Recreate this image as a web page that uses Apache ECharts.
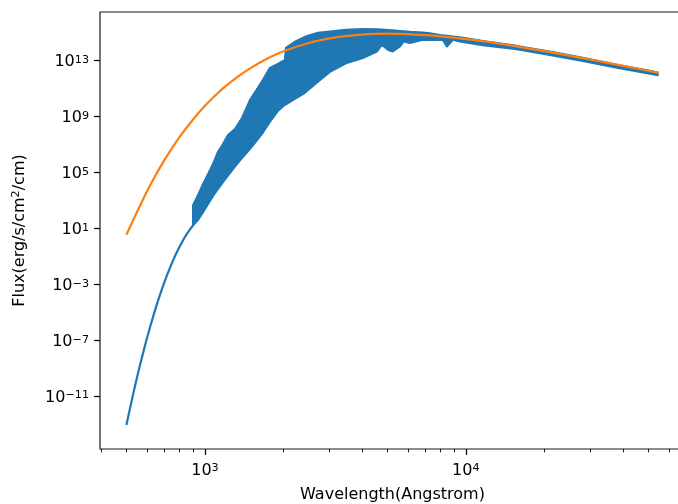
<!DOCTYPE html>
<html>
<head>
<meta charset="utf-8">
<script src="https://cdn.jsdelivr.net/npm/echarts@6/dist/echarts.min.js"></script>
<style>html,body{margin:0;padding:0;background:#fff;}#c{width:678px;height:504px;}</style>
</head>
<body>
<div id="c"></div>
<script>
// ---- data ----
// Blackbody-like curve (orange)
const orangeWl = [500, 550, 600, 650, 700, 750, 800, 900, 1000, 1100, 1200, 1350, 1500, 1750, 2000, 2500, 3000, 3500, 4000, 4500, 5000, 6000, 7000, 8000, 10000, 12000, 15000, 20000, 25000, 30000, 40000, 50000, 55000];
const orangeFlux = [3.5, 1.6e2, 4.6e3, 7.4e4, 7.9e5, 6.0e6, 3.5e7, 6.1e8, 5.8e9, 3.4e10, 1.46e11, 8.1e11, 3.0e12, 1.5e13, 4.6e13, 1.8e14, 3.8e14, 5.8e14, 7.2e14, 8.0e14, 8.3e14, 7.7e14, 6.5e14, 5.3e14, 3.4e14, 2.2e14, 1.16e14, 4.7e13, 2.2e13, 1.19e13, 4.2e12, 1.85e12, 1.3e12];

// Smooth UV part of the spectrum (blue line)
const blueWl = [500, 510, 520, 532, 545, 560, 575, 595, 615, 637, 660, 686, 713, 740, 770, 800, 830, 850, 870, 886, 902];
const blueFlux = [8.7e-14, 4.9e-13, 2.6e-12, 1.76e-11, 1.24e-10, 1.03e-9, 7.4e-9, 8.6e-8, 8.0e-7, 7.5e-6, 6.3e-5, 5.4e-4, 3.9e-3, 2.2e-2, 0.12, 0.51, 1.79, 3.7, 7.0, 11.2, 17];

// Noisy part of the spectrum drawn as a band: lower / upper envelope
const bandWl = [900, 940, 983, 1027, 1073, 1121, 1172, 1225, 1303, 1386, 1487, 1568, 1668, 1774, 1904, 2025, 2043, 2212, 2416, 2710, 3013, 3470, 4031, 4560, 4767, 5024, 5252, 5586, 5786, 6101, 6842, 7278, 8166, 8458, 8917, 9485, 11617, 15686, 20977, 28070, 37890, 50700, 54400];
const bandLo = [17, 39, 1.45e2, 5.4e2, 2.0e3, 6.5e3, 2.0e4, 6.0e4, 2.6e5, 1.07e6, 4.7e6, 1.58e7, 7.1e7, 4.1e8, 2.5e9, 6.8e9, 7.2e9, 1.8e10, 4.9e10, 3.0e11, 1.55e12, 6.3e12, 1.48e13, 4.4e13, 1.32e14, 5.9e13, 4.4e13, 1.0e14, 2.3e14, 1.78e14, 3.0e14, 3.0e14, 3.0e14, 1.0e14, 3.0e14, 2.3e14, 1.26e14, 6.3e13, 2.5e13, 9.3e12, 3.0e12, 1.12e12, 8.9e11];
const bandHi = [4.6e2, 2.4e3, 1.5e4, 7.6e4, 4.0e5, 2.9e6, 1.07e7, 4.8e7, 1.29e8, 7.9e8, 1.5e10, 6.8e10, 4.2e11, 3.0e12, 5.8e12, 1.12e13, 8.1e13, 2.2e14, 5.0e14, 9.7e14, 1.2e15, 1.58e15, 1.78e15, 1.72e15, 1.66e15, 1.55e15, 1.45e15, 1.32e15, 1.26e15, 1.15e15, 1.0e15, 9.1e14, 6.3e14, 5.9e14, 5.2e14, 4.6e14, 2.5e14, 1.12e14, 4.4e13, 1.58e13, 5.1e12, 1.86e12, 1.41e12];

// Ticks
const xMajorTicks = [1000, 10000];
const xMinorTicks = [400, 500, 600, 700, 800, 900, 2000, 3000, 4000, 5000, 6000, 7000, 8000, 9000, 20000, 30000, 40000, 50000, 60000];
const yTicks = [1e-11, 1e-7, 1e-3, 1e1, 1e5, 1e9, 1e13];

// ---- chart ----
const BLUE = '#1f77b4', ORANGE = '#ff7f0e';
const FONT = 'DejaVu Sans';
function expLabel(v) {
  const e = Math.round(Math.log10(v));
  const s = e < 0 ? '\u2212' + (-e) : String(e);
  return '{b|10}{s|' + s + '}';
}
const richLbl = {
  b: {fontFamily: FONT, fontSize: 16, lineHeight: 16, color: '#000'},
  s: {fontFamily: FONT, fontSize: 11.2, lineHeight: 7, verticalAlign: 'top', color: '#000'}
};

const chart = echarts.init(document.getElementById('c'), null, {renderer: 'canvas'});
const xMin = 396, xMax = 69200;
chart.setOption({
  animation: false,
  backgroundColor: '#fff',
  grid: {left: 100, top: 12, right: -7, bottom: 55, outerBoundsMode: 'none', containLabel: false,
    show: true, borderColor: '#1a1a1a', borderWidth: 1.2, backgroundColor: 'transparent'},
  xAxis: [
    {
      type: 'log', min: xMin, max: xMax, gridIndex: 0, position: 'bottom',
      name: 'Wavelength(Angstrom)', nameLocation: 'middle', nameGap: 38,
      nameTextStyle: {fontFamily: FONT, fontSize: 16, color: '#000'},
      axisLine: {show: false, onZero: false},
      splitLine: {show: false}, minorTick: {show: false},
      axisTick: {show: true, customValues: xMajorTicks, length: 6, lineStyle: {color: '#000', width: 1.2}},
      axisLabel: {customValues: xMajorTicks, margin: 10, padding: [3.6, 0, 0, 0], formatter: expLabel, rich: richLbl}
    },
    {
      type: 'log', min: xMin, max: xMax, gridIndex: 0, position: 'bottom',
      axisLine: {show: false, onZero: false},
      splitLine: {show: false},
      axisTick: {show: true, customValues: xMinorTicks, length: 3.3, lineStyle: {color: '#000', width: 0.9}},
      axisLabel: {show: false}
    }
  ],
  yAxis: {
    type: 'log', min: Math.pow(10, -14.77), max: Math.pow(10, 16.47),
    name: 'Flux(erg/s/cm{s|2}/cm)', nameLocation: 'middle', nameGap: 71,
    nameTextStyle: {fontFamily: FONT, fontSize: 16, color: '#000', lineHeight: 18,
      rich: {s: {fontFamily: FONT, fontSize: 11.2, lineHeight: 10, verticalAlign: 'top', color: '#000'}}},
    axisLine: {show: false, onZero: false},
    splitLine: {show: false}, minorTick: {show: false},
    axisTick: {show: true, customValues: yTicks, length: 6, lineStyle: {color: '#000', width: 1.2}},
    axisLabel: {customValues: yTicks, margin: 11, padding: [3.6, 0, 0, 0], formatter: expLabel, rich: richLbl}
  },
  series: [
    {
      type: 'line', xAxisIndex: 0, yAxisIndex: 0, showSymbol: false, smooth: false,
      data: blueWl.map((w, i) => [w, blueFlux[i]]),
      lineStyle: {color: BLUE, width: 2.2, join: 'round'}, itemStyle: {color: BLUE}, silent: true
    },
    {
      type: 'custom', xAxisIndex: 0, yAxisIndex: 0, silent: true,
      data: bandWl.map((w, i) => [w, bandLo[i], bandHi[i]]),
      encode: {x: 0, y: [1, 2]},
      renderItem: function (params, api) {
        if (params.dataIndex !== 0) return null;
        const pts = [];
        for (let i = 0; i < bandWl.length; i++) pts.push(api.coord([bandWl[i], bandHi[i]]));
        for (let i = bandWl.length - 1; i >= 0; i--) pts.push(api.coord([bandWl[i], bandLo[i]]));
        return {type: 'polygon', shape: {points: pts}, style: {fill: BLUE, stroke: BLUE, lineWidth: 2, lineJoin: 'round'}};
      }
    },
    {
      type: 'line', xAxisIndex: 0, yAxisIndex: 0, showSymbol: false, smooth: 0.3,
      data: orangeWl.map((w, i) => [w, orangeFlux[i]]),
      lineStyle: {color: ORANGE, width: 2.2}, itemStyle: {color: ORANGE}, silent: true
    }
  ]
});
</script>
</body>
</html>
